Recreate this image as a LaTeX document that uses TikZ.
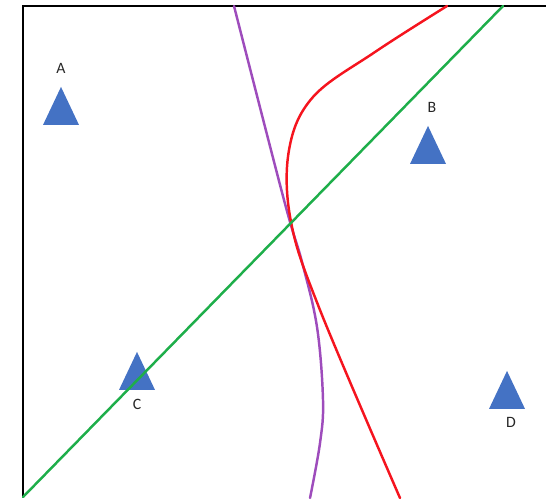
\documentclass[tikz,border=0pt]{standalone}
\usepackage{fontspec}
\setmainfont{Carlito}
\usetikzlibrary{shapes.geometric,positioning}

\definecolor{triblue}{HTML}{4472C4}
\definecolor{curvered}{HTML}{F5141E}
\definecolor{linegreen}{HTML}{1EAE4A}
\definecolor{curvepurple}{HTML}{9E4CBC}

\begin{document}
\begin{tikzpicture}[
    x=0.02cm, y=-0.02cm,
    font=\fontsize{9}{10}\selectfont,
    tri/.style={isosceles triangle, isosceles triangle stretches, shape border rotate=90,
        fill=triblue, draw=none, inner sep=0pt, minimum width=0.72cm, minimum height=0.76cm, anchor=apex},
    lab/.style={inner sep=0pt, text=black!85},
    curve/.style={line width=1.4pt, line cap=round}
]
\useasboundingbox (0,0) rectangle (546,498);

% frame
\draw[line width=1.2pt] (546,6) -- (23,6) -- (23,498);

% stations
\node[tri] (A) at (61,86) {};
\node[tri] (B) at (428,125) {};
\node[tri] (C) at (137,351) {};
\node[tri] (D) at (507,370) {};

\node[lab] (labA) at (61,68) {A};
\node[lab] (labB) at (432,107) {B};
\node[lab] (labC) at (137,404) {C};
\node[lab] (labD) at (511,422) {D};

% curves
\draw[curve, curvepurple] plot[smooth, tension=0.6] coordinates
    {(234,6) (284,200) (302,262) (317,327) (323,400) (320,443) (310,498)};
\draw[curve, curvered] plot[smooth, tension=0.6] coordinates
    {(447,6) (375,52) (313,97) (289,150) (291,222) (320,310) (400,498)};
\draw[curve, linegreen] (23,497) -- (503,6);
\end{tikzpicture}
\end{document}
